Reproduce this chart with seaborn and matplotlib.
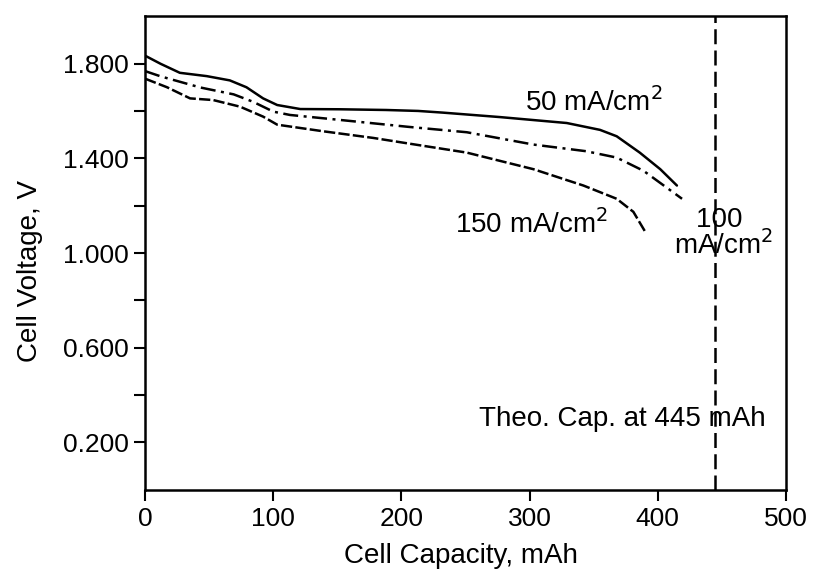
import numpy as np
import pandas as pd
import matplotlib
matplotlib.use("Agg")
import matplotlib.pyplot as plt
import seaborn as sns

cap_50 = [0, 12, 27, 48, 66, 79, 92, 103, 121, 152, 188, 213, 232, 277, 329,
          355, 368, 386, 402, 415]
volt_50 = [1.833, 1.799, 1.761, 1.747, 1.729, 1.70, 1.653, 1.625, 1.608, 1.607,
           1.604, 1.600, 1.593, 1.574, 1.549, 1.52, 1.493, 1.424, 1.354, 1.285]

cap_100 = [0, 12, 43, 69, 84, 100, 113, 152, 205, 251, 303, 344, 368, 389, 419]
volt_100 = [1.768, 1.746, 1.699, 1.67, 1.639, 1.597, 1.583, 1.562, 1.533,
            1.51, 1.458, 1.43, 1.403, 1.347, 1.229]

cap_150 = [0, 17, 35, 53, 74, 92, 103, 139, 178, 206, 251, 303, 342, 368, 381, 391]
volt_150 = [1.736, 1.70, 1.653, 1.646, 1.618, 1.576, 1.542, 1.514, 1.486,
            1.462, 1.424, 1.354, 1.285, 1.229, 1.174, 1.083]

theo_cap = 445
x_ticks = [0, 100, 200, 300, 400, 500]
y_major = [0.2, 0.6, 1.0, 1.4, 1.8]
y_minor = [0.4, 0.8, 1.2, 1.6]

sns.set_theme(style="ticks")
plt.rcParams['font.family'] = ['Liberation Sans', 'DejaVu Sans']
plt.rcParams['text.color'] = 'black'
plt.rcParams['axes.labelcolor'] = 'black'

fig = plt.figure(figsize=(8.16, 5.79), dpi=100)
ax = fig.add_axes([0.178, 0.154, 0.785, 0.818])

lw = 1.8
series = [
    (cap_50, volt_50, '-'),
    (cap_100, volt_100, (0, (6, 2.2, 1.2, 2.2))),
    (cap_150, volt_150, (0, (4.5, 1.3))),
]
for xs, ys, ls in series:
    df = pd.DataFrame({'cap': xs, 'volt': ys})
    sns.lineplot(data=df, x='cap', y='volt', ax=ax, color='black',
                 linewidth=lw, linestyle=ls, estimator=None, sort=False)

ax.axvline(theo_cap, color='black', linewidth=lw, linestyle=(0, (6, 2.5)))

ax.set_xlim(0, 500)
ax.set_ylim(0, 2.0)
ax.set_xticks(x_ticks)
ax.set_yticks(y_major)
ax.set_yticks(y_minor, minor=True)
ax.set_yticklabels([f"{v:.3f}" for v in y_major])
ax.tick_params(axis='both', which='both', direction='out', length=8,
               width=1.5, color='black', labelsize=19, labelcolor='black', pad=4)
for sp in ax.spines.values():
    sp.set_visible(True)
    sp.set_color('black')
    sp.set_linewidth(1.8)

ax.set_xlabel('Cell Capacity, mAh', fontsize=20)
ax.set_ylabel('Cell Voltage, V', fontsize=20)
ax.xaxis.set_label_coords(0.493, -0.112)
ax.yaxis.set_label_coords(-0.159, 0.462)

ax.text(350, 1.60, r'50 mA/cm$^2$', fontsize=20, ha='center', va='baseline')
ax.text(242, 1.083, r'150 mA/cm$^2$', fontsize=20, ha='left', va='baseline')
ax.text(451, 1.083, '100 \n' + r'mA/cm$^2$', fontsize=20, ha='center',
        va='center', multialignment='center', linespacing=0.9)
ax.text(484, 0.271, 'Theo. Cap. at 445 mAh', fontsize=20, ha='right', va='baseline')

fig.savefig('out.png', dpi=100, facecolor='white')
